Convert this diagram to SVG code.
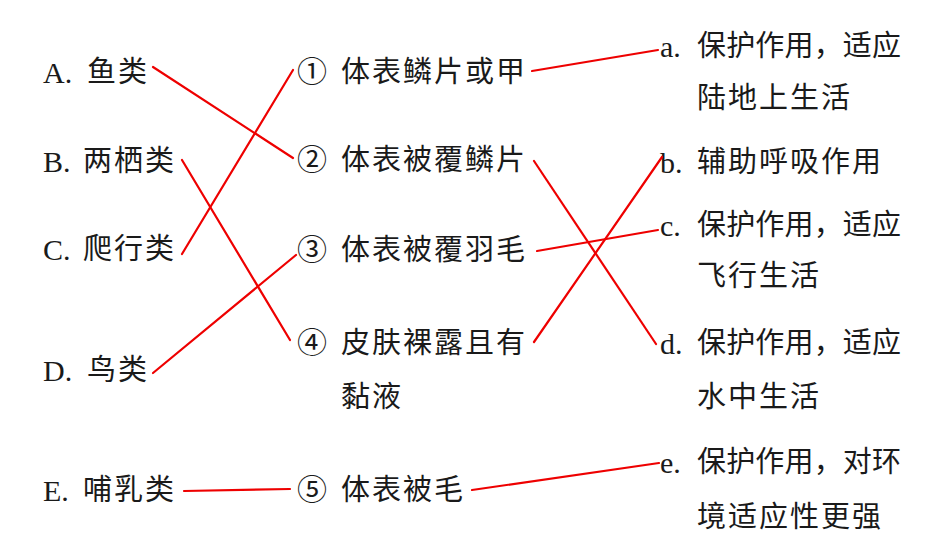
<svg xmlns="http://www.w3.org/2000/svg" width="951" height="556" viewBox="0 0 951 556">
<style>
.t{font-family:"Noto Sans CJK SC","Liberation Serif",sans-serif;font-size:29px;fill:#1a1a1a;letter-spacing:2px}
.l{font-family:"Liberation Serif",serif;font-size:30px;fill:#1a1a1a}
.n{font-family:"Noto Sans CJK SC","DejaVu Sans",sans-serif;font-size:30px;fill:#1a1a1a}
.c line{stroke:#ee0000;stroke-width:2.2;stroke-linecap:round}
</style>
<rect width="951" height="556" fill="#ffffff"/>
<g id="left">
<g id="A"><text class="l" x="43" y="83">A.</text><text class="t" x="87" y="82">鱼类</text></g>
<g id="B"><text class="l" x="43" y="172">B.</text><text class="t" x="83" y="171">两栖类</text></g>
<g id="C"><text class="l" x="43" y="260">C.</text><text class="t" x="83" y="259">爬行类</text></g>
<g id="D"><text class="l" x="43" y="381">D.</text><text class="t" x="87" y="380">鸟类</text></g>
<g id="E"><text class="l" x="43" y="501">E.</text><text class="t" x="83" y="500">哺乳类</text></g>
</g>
<g id="middle">
<g id="m1"><text class="n" x="297" y="82">①</text><text class="t" x="341" y="82">体表鳞片或甲</text></g>
<g id="m2"><text class="n" x="297" y="170">②</text><text class="t" x="341" y="170">体表被覆鳞片</text></g>
<g id="m3"><text class="n" x="297" y="260">③</text><text class="t" x="341" y="260">体表被覆羽毛</text></g>
<g id="m4"><text class="n" x="297" y="353">④</text><text class="t" x="341" y="353">皮肤裸露且有</text><text class="t" x="341" y="407">黏液</text></g>
<g id="m5"><text class="n" x="297" y="500">⑤</text><text class="t" x="341" y="500">体表被毛</text></g>
</g>
<g id="right">
<g id="ra"><text class="l" x="660" y="57">a.</text><text class="t" x="697" y="56" textLength="206" lengthAdjust="spacing">保护作用，适应</text><text class="t" x="697" y="108">陆地上生活</text></g>
<g id="rb"><text class="l" x="660" y="173">b.</text><text class="t" x="697" y="172">辅助呼吸作用</text></g>
<g id="rc"><text class="l" x="660" y="236">c.</text><text class="t" x="697" y="235" textLength="206" lengthAdjust="spacing">保护作用，适应</text><text class="t" x="697" y="286">飞行生活</text></g>
<g id="rd"><text class="l" x="660" y="354">d.</text><text class="t" x="697" y="353" textLength="206" lengthAdjust="spacing">保护作用，适应</text><text class="t" x="697" y="407">水中生活</text></g>
<g id="re"><text class="l" x="660" y="473">e.</text><text class="t" x="697" y="472" textLength="206" lengthAdjust="spacing">保护作用，对环</text><text class="t" x="697" y="527">境适应性更强</text></g>
</g>
<g id="connectors" class="c">
<line x1="153" y1="67" x2="293" y2="158"/>
<line x1="182" y1="254" x2="293" y2="70"/>
<line x1="182" y1="160" x2="290" y2="340"/>
<line x1="153" y1="373" x2="296" y2="255"/>
<line x1="184" y1="491" x2="290" y2="489"/>
<line x1="532" y1="71" x2="658" y2="50"/>
<line x1="534" y1="161" x2="656" y2="344"/>
<line x1="537" y1="251" x2="658" y2="230"/>
<line x1="534" y1="342" x2="662" y2="157"/>
<line x1="472" y1="490" x2="659" y2="463"/>
</g>
</svg>
